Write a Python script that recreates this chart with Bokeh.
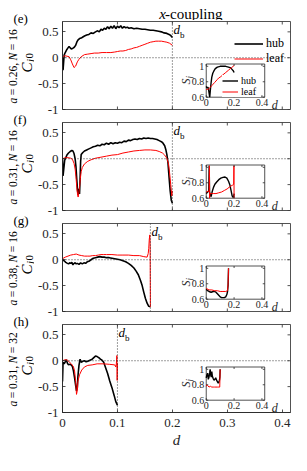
import math
from bokeh.plotting import figure
from bokeh.layouts import column, row
from bokeh.models import Range1d, LinearAxis, FixedTicker, Span, Label, Legend, LegendItem
from bokeh.core.properties import value
from bokeh.embed import file_html
from bokeh.resources import INLINE

# ---------------- data ----------------
TITLE_ITALIC = "x"
TITLE_REST = "-coupling"
PANEL_TAGS = ["(e)", "(f)", "(g)", "(h)"]
PANEL_A = ["0.26", "0.31", "0.38", "0.31"]
PANEL_N = ["16", "16", "16", "32"]
D_B = [0.2, 0.2, 0.16, 0.1]
SERIES_NAMES = ["hub", "leaf"]

X_TICKS = [0, 0.1, 0.2, 0.3, 0.4]
X_TICK_LABELS = ["0", "0.1", "0.2", "0.3", "0.4"]
Y_TICKS = [-1, -0.5, 0, 0.5]
Y_TICK_LABELS = ["-1", "-0.5", "0", "0.5"]
INSET_X_TICKS = [0, 0.2, 0.4]
INSET_X_TICK_LABELS = ["0", "0.2", "0.4"]
INSET_Y_TICKS = [0.6, 0.8, 1.0]
INSET_Y_TICK_LABELS = ["0.6", "0.8", "1"]

# (d, C_j0) pairs
E_HUB = [(0.000, 0.00), (0.001, -0.24), (0.003, 0.05), (0.005, 0.10), (0.008, 0.16), (0.010, 0.19),
         (0.012, 0.22), (0.014, 0.19), (0.016, 0.17), (0.018, 0.18), (0.020, 0.19), (0.022, 0.21),
         (0.024, 0.24), (0.026, 0.30), (0.028, 0.34), (0.031, 0.37), (0.034, 0.38), (0.037, 0.40),
         (0.040, 0.42), (0.044, 0.44), (0.048, 0.45), (0.052, 0.48), (0.056, 0.47), (0.060, 0.50),
         (0.064, 0.52), (0.067, 0.50), (0.070, 0.55), (0.073, 0.53), (0.076, 0.57), (0.079, 0.55),
         (0.082, 0.60), (0.085, 0.56), (0.088, 0.61), (0.091, 0.57), (0.094, 0.62), (0.097, 0.56),
         (0.100, 0.61), (0.103, 0.58), (0.106, 0.62), (0.109, 0.57), (0.112, 0.60), (0.115, 0.58),
         (0.118, 0.59), (0.121, 0.57), (0.125, 0.58), (0.130, 0.56), (0.135, 0.57), (0.140, 0.56),
         (0.145, 0.55), (0.150, 0.55), (0.155, 0.54), (0.160, 0.53), (0.165, 0.53), (0.170, 0.52),
         (0.175, 0.51), (0.180, 0.50), (0.185, 0.48), (0.190, 0.47), (0.194, 0.45), (0.197, 0.43),
         (0.200, 0.39)]
E_LEAF = [(0.000, 0.00), (0.004, 0.04), (0.008, 0.03), (0.012, 0.02), (0.015, -0.04), (0.018, -0.12),
          (0.021, -0.19), (0.024, -0.16), (0.027, -0.08), (0.030, -0.03), (0.034, 0.02), (0.040, 0.06),
          (0.046, 0.07), (0.052, 0.08), (0.058, 0.09), (0.065, 0.09), (0.072, 0.10), (0.080, 0.10),
          (0.088, 0.10), (0.095, 0.11), (0.100, 0.12), (0.105, 0.13), (0.110, 0.13), (0.115, 0.14),
          (0.120, 0.16), (0.125, 0.17), (0.130, 0.19), (0.135, 0.20), (0.140, 0.22), (0.145, 0.24),
          (0.150, 0.26), (0.155, 0.28), (0.160, 0.30), (0.165, 0.31), (0.170, 0.32), (0.175, 0.32),
          (0.180, 0.32), (0.185, 0.31), (0.190, 0.30), (0.195, 0.28), (0.200, 0.24)]
F_HUB = [(0.000, 0.00), (0.001, -0.33), (0.004, -0.03), (0.008, 0.07), (0.011, 0.11), (0.014, 0.14),
         (0.017, 0.16), (0.019, 0.15), (0.021, 0.10), (0.023, 0.00), (0.0245, -0.15), (0.026, -0.40),
         (0.0275, -0.62), (0.0285, -0.70), (0.0295, -0.60), (0.030, -0.58), (0.031, -0.68), (0.032, -0.40),
         (0.033, -0.05), (0.034, 0.08), (0.037, 0.12), (0.040, 0.15), (0.044, 0.17), (0.048, 0.19),
         (0.052, 0.21), (0.056, 0.23), (0.060, 0.24), (0.064, 0.26), (0.068, 0.25), (0.072, 0.28),
         (0.076, 0.27), (0.080, 0.30), (0.084, 0.28), (0.088, 0.31), (0.092, 0.29), (0.096, 0.31),
         (0.100, 0.30), (0.104, 0.32), (0.108, 0.31), (0.112, 0.34), (0.116, 0.33), (0.120, 0.36),
         (0.124, 0.35), (0.128, 0.37), (0.132, 0.38), (0.136, 0.37), (0.140, 0.39), (0.144, 0.38),
         (0.148, 0.40), (0.152, 0.39), (0.156, 0.40), (0.160, 0.39), (0.164, 0.39), (0.168, 0.38),
         (0.172, 0.37), (0.176, 0.35), (0.180, 0.33), (0.183, 0.30), (0.186, 0.25), (0.188, 0.18),
         (0.190, 0.08), (0.192, -0.08), (0.194, -0.36), (0.196, -0.62), (0.198, -0.80), (0.200, -0.86)]
F_LEAF = [(0.000, 0.00), (0.005, 0.02), (0.010, 0.02), (0.015, 0.01), (0.018, -0.01), (0.021, -0.09),
          (0.023, -0.20), (0.0245, -0.35), (0.026, -0.55), (0.0275, -0.70), (0.0285, -0.74), (0.0295, -0.68),
          (0.031, -0.55), (0.0325, -0.38), (0.034, -0.25), (0.036, -0.17), (0.040, -0.10), (0.046, -0.05),
          (0.052, -0.02), (0.060, 0.01), (0.070, 0.03), (0.080, 0.05), (0.090, 0.07), (0.100, 0.08),
          (0.110, 0.11), (0.120, 0.13), (0.130, 0.15), (0.140, 0.16), (0.150, 0.17), (0.160, 0.17),
          (0.170, 0.16), (0.176, 0.14), (0.182, 0.11), (0.186, 0.07), (0.190, 0.01), (0.193, -0.10),
          (0.195, -0.28), (0.197, -0.50), (0.199, -0.72), (0.200, -0.62)]
G_HUB = [(0.000, 0.00), (0.003, -0.02), (0.006, -0.05), (0.009, -0.07), (0.011, -0.08), (0.013, -0.06),
         (0.015, -0.07), (0.017, -0.05), (0.019, -0.10), (0.021, -0.07), (0.023, -0.06), (0.025, -0.08),
         (0.027, -0.07), (0.030, -0.09), (0.033, -0.06), (0.036, -0.08), (0.039, -0.06), (0.042, -0.07),
         (0.045, -0.04), (0.048, -0.03), (0.052, 0.00), (0.056, 0.03), (0.060, 0.04), (0.064, 0.05),
         (0.068, 0.06), (0.072, 0.05), (0.076, 0.05), (0.080, 0.04), (0.085, 0.04), (0.090, 0.03),
         (0.095, 0.02), (0.100, 0.01), (0.105, 0.00), (0.110, -0.02), (0.115, -0.04), (0.120, -0.07),
         (0.125, -0.11), (0.130, -0.16), (0.134, -0.22), (0.138, -0.29), (0.142, -0.40), (0.145, -0.50),
         (0.148, -0.63), (0.151, -0.75), (0.154, -0.84), (0.157, -0.90), (0.160, -0.91)]
G_LEAF = [(0.000, 0.02), (0.005, 0.05), (0.010, 0.07), (0.015, 0.09), (0.020, 0.10), (0.025, 0.11),
          (0.030, 0.09), (0.035, 0.08), (0.040, 0.07), (0.045, 0.07), (0.050, 0.07), (0.055, 0.08),
          (0.060, 0.08), (0.065, 0.09), (0.070, 0.10), (0.075, 0.10), (0.080, 0.10), (0.090, 0.10),
          (0.100, 0.09), (0.110, 0.09), (0.120, 0.09), (0.130, 0.08), (0.140, 0.08), (0.148, 0.06),
          (0.154, 0.05), (0.156, 0.12), (0.157, 0.22), (0.158, 0.40), (0.159, 0.48), (0.1595, 0.30),
          (0.160, -0.91)]
H_HUB = [(0.000, -0.40), (0.001, -0.03), (0.003, -0.06), (0.005, -0.02), (0.007, 0.02), (0.009, -0.05),
         (0.011, -0.08), (0.013, -0.07), (0.016, -0.08), (0.018, -0.11), (0.020, -0.20), (0.022, -0.33),
         (0.024, -0.48), (0.0255, -0.58), (0.027, -0.52), (0.028, -0.31), (0.030, -0.09), (0.032, 0.03),
         (0.034, -0.03), (0.037, -0.01), (0.040, 0.00), (0.043, -0.02), (0.046, -0.01), (0.050, 0.01),
         (0.054, 0.03), (0.057, 0.06), (0.060, 0.09), (0.063, 0.08), (0.066, 0.06), (0.069, 0.03),
         (0.072, 0.01), (0.075, -0.03), (0.078, -0.12), (0.082, -0.24), (0.086, -0.39), (0.090, -0.52),
         (0.094, -0.67), (0.097, -0.79), (0.100, -0.86)]
H_LEAF = [(0.000, 0.00), (0.005, 0.02), (0.009, 0.01), (0.012, -0.02), (0.016, -0.06), (0.020, -0.12),
          (0.022, -0.20), (0.024, -0.40), (0.0255, -0.65), (0.027, -0.57), (0.028, -0.40), (0.031, -0.27),
          (0.035, -0.18), (0.040, -0.12), (0.046, -0.09), (0.054, -0.08), (0.063, -0.06), (0.075, -0.06),
          (0.086, -0.07), (0.095, -0.08), (0.097, -0.12), (0.098, -0.06), (0.099, 0.10), (0.0995, -0.38),
          (0.100, -0.05)]

# inset (d, S_j) pairs
E_S_HUB = [(0.000, 0.74), (0.005, 0.72), (0.010, 0.73), (0.015, 0.72), (0.020, 0.66), (0.025, 0.60),
           (0.030, 0.70), (0.035, 0.79), (0.040, 0.86), (0.047, 0.91), (0.055, 0.94), (0.065, 0.97),
           (0.080, 0.99), (0.100, 1.00), (0.120, 1.00), (0.140, 1.00), (0.160, 0.99), (0.175, 0.98),
           (0.185, 0.96), (0.195, 0.94), (0.200, 0.92)]
E_S_LEAF = [(0.000, 0.70), (0.010, 0.70), (0.020, 0.71), (0.030, 0.73), (0.040, 0.75), (0.050, 0.77),
            (0.060, 0.79), (0.070, 0.81), (0.080, 0.83), (0.090, 0.85), (0.100, 0.86), (0.120, 0.89),
            (0.140, 0.92), (0.160, 0.95), (0.180, 0.98), (0.200, 1.01)]
F_S_HUB = [(0.000, 0.66), (0.010, 0.68), (0.018, 0.69), (0.021, 1.02), (0.024, 0.68), (0.030, 0.64),
           (0.035, 0.62), (0.042, 0.68), (0.052, 0.74), (0.062, 0.78), (0.075, 0.81), (0.090, 0.84),
           (0.105, 0.86), (0.120, 0.87), (0.135, 0.875), (0.148, 0.86), (0.160, 0.82), (0.170, 0.77),
           (0.178, 0.70), (0.186, 0.63), (0.193, 0.61), (0.198, 0.63), (0.200, 0.66)]
F_S_LEAF = [(0.000, 0.68), (0.012, 0.69), (0.021, 0.69), (0.023, 1.02), (0.024, 0.60), (0.026, 0.66),
            (0.035, 0.66), (0.050, 0.66), (0.070, 0.66), (0.090, 0.67), (0.110, 0.68), (0.130, 0.70),
            (0.150, 0.72), (0.170, 0.75), (0.190, 0.77), (0.197, 0.78), (0.199, 1.02), (0.200, 0.60)]
G_S_HUB = [(0.000, 0.73), (0.010, 0.71), (0.020, 0.70), (0.035, 0.69), (0.050, 0.70), (0.060, 0.70),
           (0.070, 0.69), (0.080, 0.67), (0.090, 0.65), (0.100, 0.63), (0.110, 0.62), (0.120, 0.62),
           (0.130, 0.62), (0.140, 0.63), (0.148, 0.66), (0.153, 0.70), (0.157, 0.78), (0.160, 1.00)]
G_S_LEAF = [(0.000, 0.74), (0.020, 0.72), (0.040, 0.72), (0.060, 0.71), (0.080, 0.71), (0.100, 0.70),
            (0.120, 0.70), (0.140, 0.70), (0.153, 0.71), (0.157, 0.80), (0.160, 1.00)]
H_S_HUB = [(0.000, 0.89), (0.005, 0.93), (0.010, 0.95), (0.015, 0.87), (0.020, 0.90), (0.025, 0.96),
           (0.028, 1.00), (0.032, 0.93), (0.036, 0.90), (0.040, 0.97), (0.044, 0.91), (0.050, 0.88),
           (0.056, 0.86), (0.062, 0.87), (0.068, 0.89), (0.074, 0.86), (0.080, 0.84), (0.086, 0.82),
           (0.090, 0.83), (0.095, 0.86), (0.098, 0.90), (0.100, 1.00)]
H_S_LEAF = [(0.000, 0.78), (0.005, 0.80), (0.010, 0.79), (0.020, 0.77), (0.030, 0.78), (0.040, 0.77),
            (0.050, 0.77), (0.060, 0.77), (0.070, 0.77), (0.080, 0.77), (0.090, 0.77), (0.097, 0.77),
            (0.100, 1.00)]

MAIN = [(E_HUB, E_LEAF), (F_HUB, F_LEAF), (G_HUB, G_LEAF), (H_HUB, H_LEAF)]
INSETS = [(E_S_HUB, E_S_LEAF), (F_S_HUB, F_S_LEAF), (G_S_HUB, G_S_LEAF), (H_S_HUB, H_S_LEAF)]

# ---------------- styling / geometry ----------------
FONT = "Liberation Serif"
AXC = "#262626"
SIDE_W = 34          # strip on the left for panel tags and rotated labels
MAIN_W = 257
MAIN_LEFT, MAIN_RIGHT = 26, 1
FW = MAIN_W - MAIN_LEFT - MAIN_RIGHT
FH = 88
TITLE_H = 20
TOPS = [1, 1, 1, 1]
BOTTOMS = [12, 12, 12, 43]
TOTAL_H = TITLE_H + sum(FH + t + b for t, b in zip(TOPS, BOTTOMS))
XR = (0, 0.415)
YR = (-1, 0.7)
IN_L, IN_R, IN_B, IN_T = 145, 204, 12.3, 45.5
IXR = (0, 0.42)
IYR = (0.6, 1.03)
KX = (IXR[1] - IXR[0]) / (IN_R - IN_L)
KY = (IYR[1] - IYR[0]) / (IN_T - IN_B)
MKX = (XR[1] - XR[0]) / FW
MKY = (YR[1] - YR[0]) / FH
TICK = 3

W_TIMES = {"0": .5, "1": .5, "2": .5, "3": .5, "4": .5, "5": .5, "6": .5, "7": .5, "8": .5, "9": .5,
           ".": .25, ",": .25, " ": .25, "=": .564, "-": .333, "a": .5, "N": .667, "C": .667,
           "j": .278, "S": .5, "x": .444, "d": .5, "c": .444, "o": .5, "u": .5, "p": .5, "l": .278,
           "i": .278, "n": .5, "g": .5}


def tw(s, size):
    return sum(W_TIMES.get(ch, .5) for ch in s) * size


def unzip(seq):
    return [a for a, _ in seq], [b for _, b in seq]


def lab(p, text, x, y, size, italic=False, angle=0.0, align="left", baseline="alphabetic",
        color="black", x_offset=0, y_offset=0):
    p.add_layout(Label(x=x, y=y, text=text, angle=angle,
                       text_align=align, text_baseline=baseline, text_font=FONT,
                       text_font_size=f"{size}px", text_font_style="italic" if italic else "normal",
                       text_color=color, x_offset=x_offset, y_offset=y_offset))


def blank_fig(w, h):
    p = figure(width=w, height=h, output_backend="svg", toolbar_location=None,
               x_range=Range1d(0, w), y_range=Range1d(0, h),
               x_axis_location=None, y_axis_location=None, min_border=0,
               background_fill_color="white", border_fill_color="white", outline_line_color=None)
    p.grid.visible = False
    return p


def build_panel(k):
    last = k == 3
    top, bottom = TOPS[k], BOTTOMS[k]
    p = figure(width=MAIN_W, height=FH + top + bottom, output_backend="svg", toolbar_location=None,
               x_range=Range1d(*XR), y_range=Range1d(*YR),
               x_axis_location=None, y_axis_location=None,
               min_border_left=MAIN_LEFT, min_border_right=MAIN_RIGHT,
               min_border_top=top, min_border_bottom=bottom,
               background_fill_color="white", border_fill_color="white",
               outline_line_color=AXC, outline_line_width=0.8)
    p.grid.visible = False

    locs = ["left"] + (["below"] if last else [])
    for loc in locs:
        is_y = loc == "left"
        ticks = Y_TICKS if is_y else X_TICKS
        labels = Y_TICK_LABELS if is_y else X_TICK_LABELS
        ax = LinearAxis(ticker=FixedTicker(ticks=ticks, minor_ticks=[]),
                        major_label_overrides=dict(zip(ticks, labels)),
                        axis_line_color=AXC, axis_line_width=0.8,
                        major_tick_line_color=AXC, major_tick_line_width=0.8,
                        major_tick_in=TICK, major_tick_out=0, minor_tick_line_color=None,
                        major_label_text_font=FONT, major_label_text_color=AXC,
                        major_label_text_font_size="13px",
                        major_label_standoff=4 if is_y else 6)
        if not is_y:
            ax.axis_label = "d"
            ax.axis_label_text_font = FONT
            ax.axis_label_text_font_style = "italic"
            ax.axis_label_text_font_size = "15px"
            ax.axis_label_text_color = AXC
            ax.axis_label_standoff = 2
        p.add_layout(ax, loc)

    # inward ticks on the other sides of the box
    nx, ny = len(X_TICKS), len(Y_TICKS)
    p.segment(x0=X_TICKS, x1=X_TICKS, y0=[YR[1]] * nx, y1=[YR[1] - TICK * MKY] * nx,
              line_color=AXC, line_width=0.8)
    if not last:
        p.segment(x0=X_TICKS, x1=X_TICKS, y0=[YR[0]] * nx, y1=[YR[0] + TICK * MKY] * nx,
                  line_color=AXC, line_width=0.8)
    p.segment(y0=Y_TICKS, y1=Y_TICKS, x0=[XR[1]] * ny, x1=[XR[1] - TICK * MKX] * ny,
              line_color=AXC, line_width=0.8)

    # reference lines
    p.add_layout(Span(location=0, dimension="width", line_color=AXC, line_dash="1 2", line_width=0.9))
    p.add_layout(Span(location=D_B[k], dimension="height", line_color=AXC, line_dash="1 2", line_width=0.9))

    hub, leaf = MAIN[k]
    r_hub = p.line(*unzip(hub), line_color="black", line_width=1.6)
    r_leaf = p.line(*unzip(leaf), line_color="red", line_width=1.0)

    # inset
    p.extra_x_ranges = {"ins": Range1d(IXR[0] - IN_L * KX, IXR[1] + (FW - IN_R) * KX)}
    p.extra_y_ranges = {"ins": Range1d(IYR[0] - IN_B * KY, IYR[1] + (FH - IN_T) * KY)}
    R = dict(x_range_name="ins", y_range_name="ins")
    p.quad(left=[IXR[0]], right=[IXR[1]], bottom=[IYR[0]], top=[IYR[1]],
           fill_color="white", line_color=AXC, line_width=0.8, **R)
    s_hub, s_leaf = INSETS[k]
    sh = p.line(*unzip(s_hub), line_color="black", line_width=1.4, **R)
    sl = p.line(*unzip(s_leaf), line_color="red", line_width=1.0, **R)
    mx, my = len(INSET_X_TICKS), len(INSET_Y_TICKS)
    tx, ty = 2 * KX, 2 * KY
    p.segment(x0=INSET_X_TICKS * 2, x1=INSET_X_TICKS * 2,
              y0=[IYR[0]] * mx + [IYR[1]] * mx, y1=[IYR[0] + ty] * mx + [IYR[1] - ty] * mx,
              line_color=AXC, line_width=0.8, **R)
    p.segment(y0=INSET_Y_TICKS * 2, y1=INSET_Y_TICKS * 2,
              x0=[IXR[0]] * my + [IXR[1]] * my, x1=[IXR[0] + tx] * my + [IXR[1] - tx] * my,
              line_color=AXC, line_width=0.8, **R)
    p.text(x=INSET_X_TICKS, y=[IYR[0]] * mx, text=INSET_X_TICK_LABELS, text_font=value(FONT),
           text_font_size="10px", text_align="center", text_baseline="top", y_offset=2,
           text_color=AXC, **R)
    p.text(x=[IXR[0]] * my, y=INSET_Y_TICKS, text=INSET_Y_TICK_LABELS, text_font=value(FONT),
           text_font_size="10px", text_align="right", text_baseline="middle", x_offset=-2,
           text_color=AXC, **R)
    p.text(x=[IXR[1]], y=[IYR[0]], text=["d"], text_font=value(FONT), text_font_style="italic",
           text_font_size="12px", text_align="left", text_baseline="top", x_offset=7, y_offset=1,
           text_color=AXC, **R)
    p.text(x=[IXR[0]], y=[(IYR[0] + IYR[1]) / 2], text=["S"], text_font=value(FONT),
           text_font_style="italic", text_font_size="12px", text_align="left",
           text_baseline="alphabetic", angle=math.pi / 2, x_offset=-20, y_offset=4,
           text_color=AXC, **R)
    p.text(x=[IXR[0]], y=[(IYR[0] + IYR[1]) / 2], text=["j"], text_font=value(FONT),
           text_font_style="italic", text_font_size="9px", text_align="left",
           text_baseline="alphabetic", angle=math.pi / 2, x_offset=-17.5, y_offset=4 - tw("S", 12),
           text_color=AXC, **R)

    # d_b marker
    p.add_layout(Label(x=D_B[k], y=YR[1] - 15 * MKY, text="d", x_offset=1, text_font=FONT,
                       text_font_size="13px", text_font_style="italic", text_color="black"))
    p.add_layout(Label(x=D_B[k], y=YR[1] - 15 * MKY, text="b", x_offset=1 + tw("d", 13), y_offset=-3,
                       text_font=FONT, text_font_size="9px", text_color="black"))

    if k == 0:
        leg = Legend(items=[LegendItem(label=SERIES_NAMES[0], renderers=[r_hub]),
                            LegendItem(label=SERIES_NAMES[1], renderers=[r_leaf])],
                     location=(172, 43), glyph_width=29, glyph_height=13, label_height=13,
                     spacing=0, padding=2, margin=0, label_standoff=3, label_text_font=FONT,
                     label_text_font_size="12px", label_text_color="black",
                     border_line_color=None, background_fill_alpha=0)
        p.add_layout(leg)
        ileg = Legend(items=[LegendItem(label=SERIES_NAMES[0], renderers=[sh]),
                             LegendItem(label=SERIES_NAMES[1], renderers=[sl])],
                      location=(160, 12), glyph_width=16, glyph_height=11, label_height=11,
                      spacing=0, padding=1, margin=0, label_standoff=3, label_text_font=FONT,
                      label_text_font_size="10px", label_text_color="black",
                      border_line_color=None, background_fill_color="white", background_fill_alpha=1)
        p.add_layout(ileg)
    return p


# ---- title strip ----
title_fig = blank_fig(MAIN_W, TITLE_H)
tsize = 15
ttotal = tw(TITLE_ITALIC, tsize) + tw(TITLE_REST, tsize)
tx0 = MAIN_LEFT + FW / 2 - ttotal / 2
lab(title_fig, TITLE_ITALIC, tx0, 7, tsize, italic=True)
lab(title_fig, TITLE_REST, tx0 + tw(TITLE_ITALIC, tsize), 7, tsize)

# ---- side strip with tags and rotated labels ----
side = blank_fig(SIDE_W, TOTAL_H)
frame_top = TITLE_H
for k in range(4):
    frame_top += TOPS[k]
    ft = TOTAL_H - frame_top          # frame top, measured from the strip's bottom
    fb = ft - FH                      # frame bottom
    lab(side, PANEL_TAGS[k], 13, ft + 3, 13, baseline="middle")
    y = fb + 6
    size = 11.5
    for txt, it in (("a", True), ("= " + PANEL_A[k] + ",", False), ("N", True), ("= " + PANEL_N[k], False)):
        lab(side, txt, 12, y, size, italic=it, angle=math.pi / 2)
        y += tw(txt, size) + 2.5
    y = fb + 37
    lab(side, "C", 26, y, 15, italic=True, angle=math.pi / 2)
    y += tw("C", 15) + 0.5
    lab(side, "j", 29, y, 11, italic=True, angle=math.pi / 2)
    y += tw("j", 11) + 0.5
    lab(side, "0", 29, y, 11, angle=math.pi / 2)
    frame_top += FH + BOTTOMS[k]

panels = [build_panel(k) for k in range(4)]
layout = row(side, column(title_fig, *panels, spacing=0), spacing=0)
open("out.html", "w").write(file_html(layout, INLINE))
